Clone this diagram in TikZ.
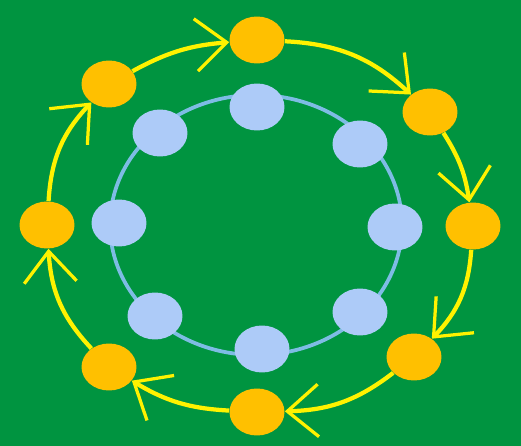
\documentclass[tikz,border=0pt]{standalone}
\usetikzlibrary{arrows.meta,shapes.geometric}
\definecolor{bggreen}{RGB}{0,148,64}
\definecolor{gold}{RGB}{255,192,0}
\definecolor{paleblue}{RGB}{173,203,248}
\definecolor{ringblue}{RGB}{126,188,228}
\begin{document}
\begin{tikzpicture}[x=0.02cm,y=-0.02cm,
    goldnode/.style={ellipse,fill=gold,minimum width=1.1cm,minimum height=0.94cm,inner sep=0pt},
    bluenode/.style={ellipse,fill=paleblue,minimum width=1.1cm,minimum height=0.94cm,inner sep=0pt},
    flow/.style={draw=yellow,line width=0.085cm,-{Straight Barb[length=0.62cm,width=1.05cm,line width=0.065cm]}}]
      \fill[bggreen] (0,0) rectangle (521,446);
      \useasboundingbox (0,0) rectangle (521,446);
      % inner ring
      \draw[ringblue,line width=0.075cm] (256,225) ellipse [x radius=2.92cm,y radius=2.6cm];
      \node[bluenode] (i1) at (257,107) {};
      \node[bluenode] (i2) at (360,144) {};
      \node[bluenode] (i3) at (395,227) {};
      \node[bluenode] (i4) at (360,312) {};
      \node[bluenode] (i5) at (262,349) {};
      \node[bluenode] (i6) at (155,316) {};
      \node[bluenode] (i7) at (119,223) {};
      \node[bluenode] (i8) at (160,133) {};
      % outer ring
      \node[goldnode] (o1) at (257,40) {};
      \node[goldnode] (o2) at (430,112) {};
      \node[goldnode] (o3) at (473,226) {};
      \node[goldnode] (o4) at (414,357) {};
      \node[goldnode] (o5) at (257,412) {};
      \node[goldnode] (o6) at (109,367) {};
      \node[goldnode] (o7) at (47,225) {};
      \node[goldnode] (o8) at (109,84) {};
      \draw[flow] (o8) to[bend left=12] (o1);
      \draw[flow] (o1) to[bend left=20] (o2);
      \draw[flow] (o2) to[bend left=12] (o3);
      \draw[flow] (o3) to[bend left=20] (o4);
      \draw[flow] (o4) to[bend left=18] (o5);
      \draw[flow] (o5) to[bend left=14] (o6);
      \draw[flow] (o6) to[bend left=20] (o7);
      \draw[flow] (o7) to[bend left=20] (o8);
    \end{tikzpicture}
\end{document}
